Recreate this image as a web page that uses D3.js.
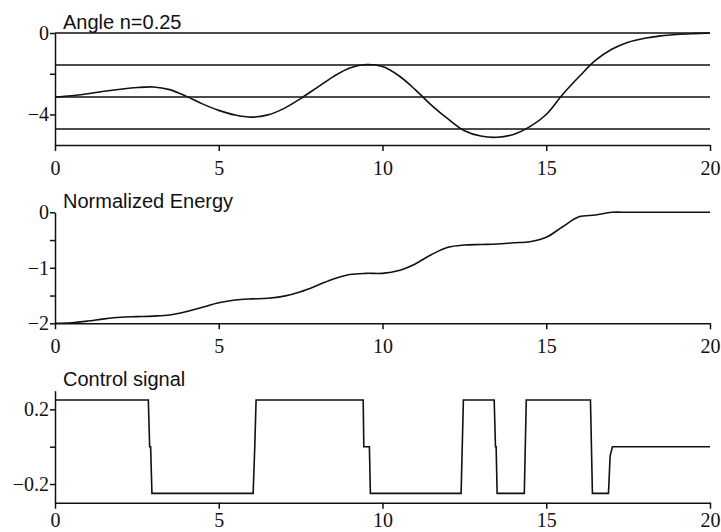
<!DOCTYPE html>
<html>
<head>
<meta charset="utf-8">
<script src="https://cdn.jsdelivr.net/npm/d3@7"></script>
<style>
  body { margin: 0; background: #fff; }
  svg { display: block; }
  .tick text { font-family: "Liberation Serif", "Times New Roman", serif; font-size: 20px; fill: #111; }
  .ttl { font-family: "Liberation Sans", Arial, sans-serif; font-size: 20px; fill: #111; }
  .domain, .tick line { stroke: #111; stroke-width: 1.5; }
</style>
</head>
<body>
<svg id="chart" width="721" height="532"></svg>
<script>
// time samples for the two smooth curves
var timeGrid = [0, 0.5, 1, 1.5, 2, 2.5, 3, 3.5, 4, 4.5, 5, 5.5, 6, 6.5, 7, 7.5, 8, 8.5, 9, 9.5,
                10, 10.5, 11, 11.5, 12, 12.5, 13, 13.5, 14, 14.5, 15, 15.5, 16, 16.5, 17, 17.5,
                18, 18.5, 19, 19.5, 20]

var angleVals = [-3.14, -3.08, -2.98, -2.86, -2.76, -2.68, -2.65, -2.78, -3.10, -3.48, -3.80, -4.03,
                 -4.13, -4.02, -3.70, -3.22, -2.68, -2.14, -1.72, -1.55, -1.65, -2.10, -2.78, -3.55,
                 -4.22, -4.80, -5.06, -5.12, -4.98, -4.60, -4.00, -3.02, -2.15, -1.35, -0.80, -0.45,
                 -0.26, -0.14, -0.07, -0.03, 0]

var energyVals = [-2.00, -1.99, -1.96, -1.92, -1.89, -1.88, -1.87, -1.85, -1.79, -1.71, -1.63, -1.58,
                  -1.56, -1.55, -1.51, -1.43, -1.32, -1.20, -1.12, -1.10, -1.10, -1.05, -0.93, -0.76,
                  -0.63, -0.59, -0.58, -0.57, -0.55, -0.53, -0.45, -0.26, -0.08, -0.05, 0, 0,
                  0, 0, 0, 0, 0]

// reference levels in the angle panel (0, -pi/2, -pi, -3pi/2)
var angleRefs = [0, -1.5708, -3.1416, -4.7124]

// control signal corners
var ctrlT = [0, 2.85, 2.89, 2.92, 2.96, 6.05, 6.10, 6.14, 9.41, 9.43, 9.60, 9.63, 12.40, 12.47,
             13.41, 13.45, 13.47, 13.50, 14.33, 14.39, 16.35, 16.41, 16.90, 16.95, 17.02, 20]
var ctrlU = [0.25, 0.25, 0, 0, -0.25, -0.25, 0, 0.25, 0.25, 0, 0, -0.25, -0.25, 0.25,
             0.25, 0, 0, -0.25, -0.25, 0.25, 0.25, -0.25, -0.25, -0.05, 0, 0]

var xTicks = [0, 5, 10, 15, 20]

var panels = [
  {title: "Angle n=0.25", dom: [-5.5, 0], rng: [145, 33], ticks: [0, -2, -4], labels: [0, -4], pad: 10},
  {title: "Normalized Energy", dom: [-2, 0], rng: [323.3, 212.3], ticks: [0, -0.5, -1, -1.5, -2], labels: [0, -1, -2], pad: 10},
  {title: "Control signal", dom: [-0.3, 0.3], rng: [502.7, 390.7], ticks: [0.2, 0, -0.2], labels: [0.2, -0.2], pad: 4}
]

var svg = d3.select("#chart")
var x = d3.scaleLinear().domain([0, 20]).range([55, 710])
var titleY = [29, 208, 386]

var ys = panels.map(function(p, i) {
  var y = d3.scaleLinear().domain(p.dom).range(p.rng)
  var fmt = d3.format("")
  svg.append("g").attr("transform", `translate(0,${p.rng[0]})`)
    .call(d3.axisBottom(x).tickValues(xTicks).tickSize(6).tickSizeOuter(0).tickPadding(p.pad))
  svg.append("g").attr("transform", `translate(${x(0)},0)`)
    .call(d3.axisLeft(y).tickValues(p.ticks).tickSize(5).tickSizeOuter(0).tickPadding(1)
      .tickFormat(function(d) { return p.labels.indexOf(d) >= 0 ? fmt(d).replace("-", "\u2212") : "" }))
  svg.append("text").attr("class", "ttl").attr("x", 63).attr("y", titleY[i]).text(p.title)
  return y
})

// reference lines in top panel
svg.selectAll(".ref").data(angleRefs).join("line").attr("class", "ref")
  .attr("x1", x(0)).attr("x2", x(20))
  .attr("y1", d => ys[0](d)).attr("y2", d => ys[0](d))
  .attr("stroke", "#111").attr("stroke-width", 1.5)

var smooth = function(y) {
  return d3.line().x(d => x(d[0])).y(d => y(d[1])).curve(d3.curveCatmullRom)
}

svg.append("path").datum(timeGrid.map((t, i) => [t, angleVals[i]]))
  .attr("d", smooth(ys[0])).attr("fill", "none").attr("stroke", "#111").attr("stroke-width", 1.6)

svg.append("path").datum(timeGrid.map((t, i) => [t, energyVals[i]]))
  .attr("d", smooth(ys[1])).attr("fill", "none").attr("stroke", "#111").attr("stroke-width", 1.6)

svg.append("path").datum(ctrlT.map((t, i) => [t, ctrlU[i]]))
  .attr("d", d3.line().x(d => x(d[0])).y(d => ys[2](d[1])))
  .attr("fill", "none").attr("stroke", "#111").attr("stroke-width", 1.6)
</script>
</body>
</html>
